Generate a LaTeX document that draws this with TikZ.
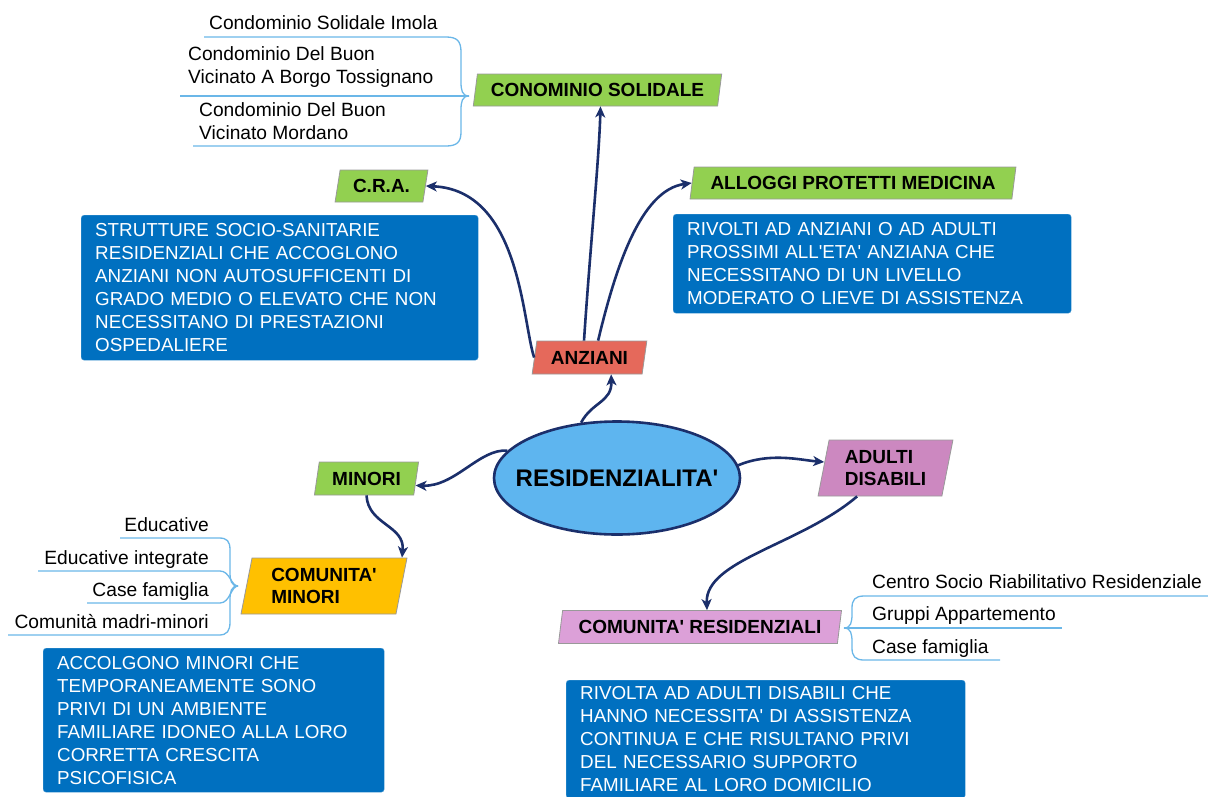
\documentclass[tikz,border=0pt]{standalone}
\usepackage{fontspec}
\newfontfamily\arial{Liberation Sans}
\usetikzlibrary{shapes.geometric,arrows.meta,calc}
\definecolor{navy}{HTML}{1B2F6B}
\definecolor{gfill}{HTML}{92D050}
\definecolor{rfill}{HTML}{E5695B}
\definecolor{ofill}{HTML}{FFC000}
\definecolor{pfill}{HTML}{CC88C0}
\definecolor{plfill}{HTML}{DCA0D8}
\definecolor{bbox}{HTML}{0070C0}
\definecolor{efill}{HTML}{5EB5EF}
\definecolor{branchc}{HTML}{6BB7E8}
\begin{document}
\begin{tikzpicture}[x=1pt,y=-1pt,
 every node/.style={font=\arial},
 para/.style={trapezium, trapezium left angle=78, trapezium right angle=102,
   trapezium stretches=true, draw=black!40, line width=0.8pt, inner sep=2pt,
   font=\arial\bfseries\fontsize{19}{22}\selectfont, align=left},
 desc/.style={fill=bbox, draw=bbox!70!white, rounded corners=3pt, text=white,
   anchor=north west, inner xsep=14pt, inner ysep=4pt,
   font=\arial\fontsize{18.8}{23}\selectfont, align=left},
 sub/.style={inner sep=0pt, font=\arial\fontsize{19.2}{23}\selectfont, align=left},
 link/.style={draw=navy, line width=2.6pt, -{Stealth[length=11pt,width=10pt,inset=3pt]}},
 branch/.style={draw=branchc, line width=1.3pt},
]
\fill[white] (0,0) rectangle (1208,796);
\useasboundingbox (0,0) rectangle (1208,796);

% central
\node[ellipse, draw=navy, line width=2.6pt, fill=efill, minimum width=246,
  minimum height=113, inner sep=0pt,
  font=\arial\bfseries\fontsize{24}{28}\selectfont] (res) at (617,478)
  {\makebox[0pt]{RESIDENZIALITA'}};

% category boxes
\node[para, fill=rfill, minimum width=115, minimum height=33] (anz) at (589.5,357.5) {ANZIANI};
\node[para, fill=gfill, minimum width=249, minimum height=32] (con) at (597.5,90) {CONOMINIO SOLIDALE};
\node[para, fill=gfill, minimum width=93, minimum height=32] (cra) at (381.5,186) {C.R.A.};
\node[para, fill=gfill, minimum width=326, minimum height=32] (all) at (853,183) {ALLOGGI PROTETTI MEDICINA};
\node[para, fill=gfill, minimum width=105, minimum height=33] (min) at (366.5,478.5) {MINORI};
\node[para, fill=ofill, minimum width=166, minimum height=56] (cmin) at (324,586) {COMUNITA'\\MINORI};
\node[para, fill=pfill, minimum width=135, minimum height=56] (add) at (885.5,468) {ADULTI\\DISABILI};
\node[para, fill=plfill, minimum width=284, minimum height=33] (cres) at (700,627) {COMUNITA' RESIDENZIALI};

% description boxes
\node[desc, text width=369, minimum height=145] (craD) at (81,215)
 {STRUTTURE SOCIO-SANITARIE\\RESIDENZIALI CHE ACCOGLONO\\ANZIANI NON AUTOSUFFICENTI DI\\GRADO MEDIO O ELEVATO CHE NON\\NECESSITANO DI PRESTAZIONI\\OSPEDALIERE};
\node[desc, text width=370, minimum height=99] (allD) at (673,214)
 {RIVOLTI AD ANZIANI O AD ADULTI\\PROSSIMI ALL'ETA' ANZIANA CHE\\NECESSITANO DI UN LIVELLO\\MODERATO O LIEVE DI ASSISTENZA};
\node[desc, text width=313, minimum height=144] (minD) at (43,648)
 {ACCOLGONO MINORI CHE\\TEMPORANEAMENTE SONO\\PRIVI DI UN AMBIENTE\\FAMILIARE IDONEO ALLA LORO\\CORRETTA CRESCITA\\PSICOFISICA};
\node[desc, text width=371, minimum height=118] (resD) at (566,680)
 {RIVOLTA AD ADULTI DISABILI CHE\\HANNO NECESSITA' DI ASSISTENZA\\CONTINUA E CHE RISULTANO PRIVI\\DEL NECESSARIO SUPPORTO\\FAMILIARE AL LORO DOMICILIO};

% sub items
\node[sub, anchor=base west] (c1) at (209,29) {Condominio Solidale Imola};
\node[sub, anchor=west] (c2) at (188,67) {Condominio Del Buon\\Vicinato A Borgo Tossignano};
\node[sub, anchor=west] (c3) at (199,121) {Condominio Del Buon\\Vicinato Mordano};

\node[sub, anchor=base east] (m1) at (209,531) {Educative};
\node[sub, anchor=base east] (m2) at (209,564) {Educative integrate};
\node[sub, anchor=base east] (m3) at (209,596) {Case famiglia};
\node[sub, anchor=base east] (m4) at (209,628) {Comunità madri-minori};

\node[sub, anchor=base west] (r1) at (872,588) {Centro Socio Riabilitativo Residenziale};
\node[sub, anchor=base west] (r2) at (872,620) {Gruppi Appartemento};
\node[sub, anchor=base west] (r3) at (872,653) {Case famiglia};

% branch coordinates
\coordinate (j1) at (469,96);
\coordinate (u1) at (204,37);
\coordinate (u2) at (180,96);
\coordinate (u3) at (193,146);
\coordinate (j2) at (238,586);
\coordinate (u4) at (120,538);
\coordinate (u5) at (38,571);
\coordinate (u6) at (87,603);
\coordinate (u7) at (8,635);
\coordinate (j3) at (844,628);
\coordinate (u8) at (1208,596);
\coordinate (u9) at (1062,628);
\coordinate (u10) at (1000,660);

% branches
\draw[branch] (j1) .. controls (462,96) and (461,90) .. (461,82) -- (461,52) .. controls (461,41) and (457,37) .. (446,37) -- (u1);
\draw[branch] (j1) -- (u2);
\draw[branch] (j1) .. controls (462,96) and (461,102) .. (461,110) -- (461,132) .. controls (461,142) and (457,146) .. (446,146) -- (u3);

\draw[branch] (j2) .. controls (231,586) and (230,580) .. (230,572) -- (230,550) .. controls (230,541) and (227,538) .. (219,538) -- (u4);
\draw[branch] (j2) .. controls (231,586) and (230,571) .. (220,571) -- (u5);
\draw[branch] (j2) .. controls (231,586) and (230,603) .. (220,603) -- (u6);
\draw[branch] (j2) .. controls (231,586) and (230,592) .. (230,600) -- (230,622) .. controls (230,631) and (227,635) .. (219,635) -- (u7);

\draw[branch] (j3) .. controls (851,628) and (852,622) .. (852,614) -- (852,608) .. controls (852,600) and (855,596) .. (864,596) -- (u8);
\draw[branch] (j3) -- (u9);
\draw[branch] (j3) .. controls (851,628) and (852,634) .. (852,642) -- (852,648) .. controls (852,656) and (855,660) .. (864,660) -- (u10);

% links
\draw[link] (res.123) .. controls (592,402) and (612,402) .. (anz.-38);
\draw[link] (anz.108) .. controls (590,250) and (599,160) .. ($(con.south)+(3,0)$);
\draw[link] (anz.west) .. controls (522,320) and (520,190) .. (cra.east);
\draw[link] (anz.63) .. controls (615,270) and (640,190) .. (all.west);
\draw[link] (res.166) .. controls (480,448) and (455,487) .. (min.-8);
\draw[link] (min.south) .. controls (368,525) and (405,525) .. ($(cmin.north)+(78,0)$);
\draw[link] (res.6) .. controls (770,452) and (800,460) .. ($(add.west)+(1,-6)$);
\draw[link] (add.-135) .. controls (800,545) and (705,560) .. ($(cres.north)+(7,0)$);
\end{tikzpicture}
\end{document}
